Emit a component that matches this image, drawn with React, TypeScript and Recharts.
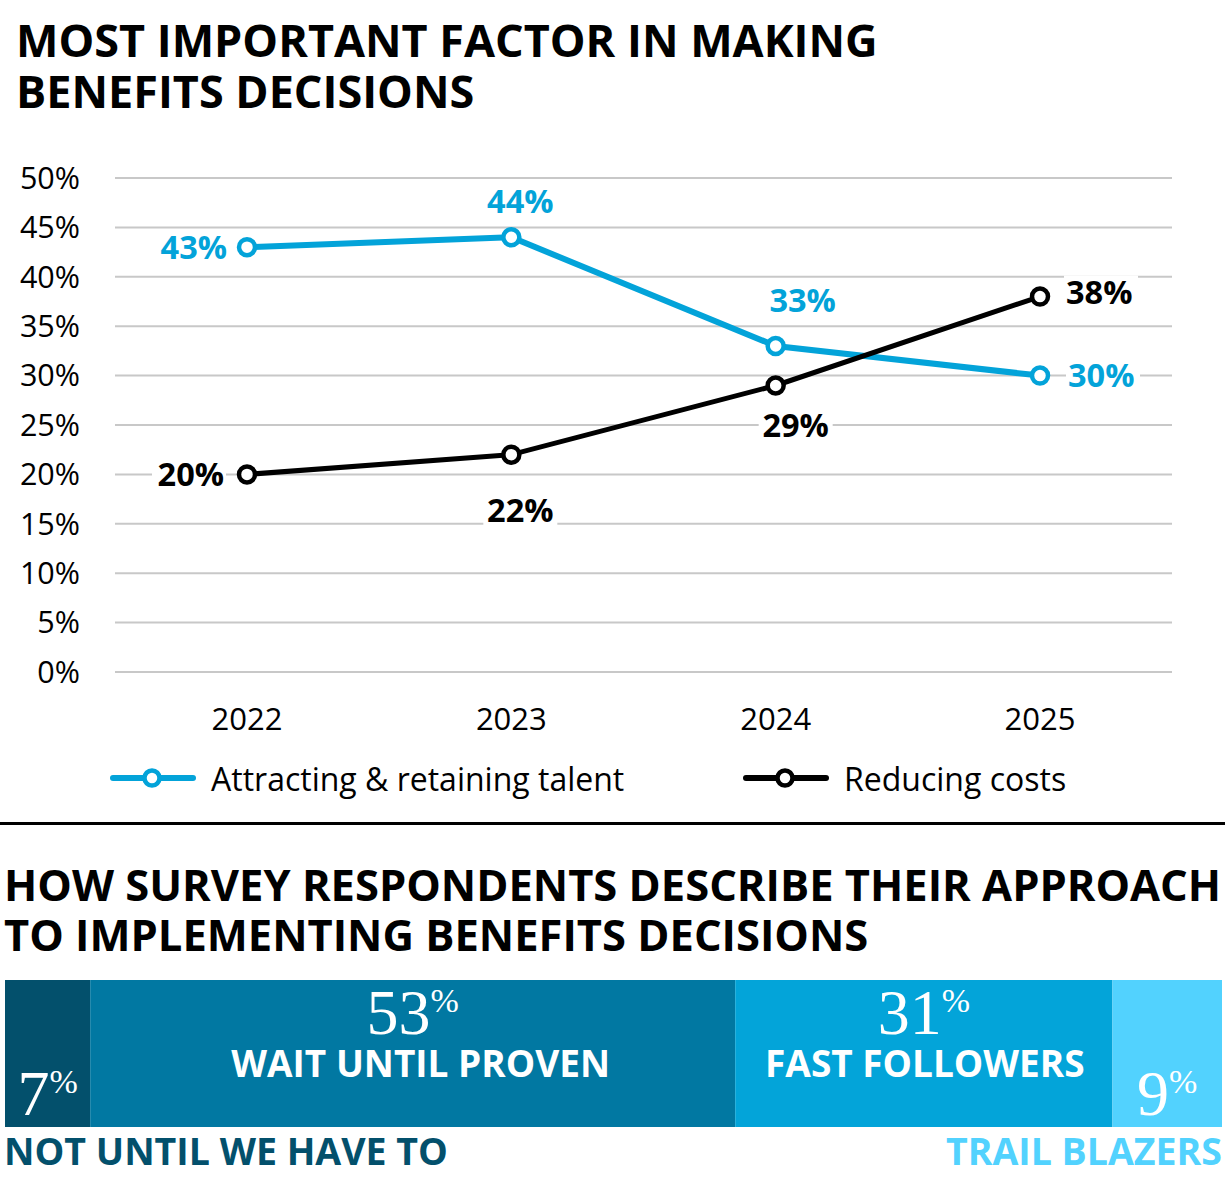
import React from 'react';
import { LineChart, Line, XAxis, YAxis, CartesianGrid, LabelList, BarChart, Bar } from 'recharts';

// Top chart: most important factor by year
const years = ['2022', '2023', '2024', '2025'];
const talentValues = [43, 44, 33, 30];
const costValues = [20, 22, 29, 38];
const yTicks = [0, 5, 10, 15, 20, 25, 30, 35, 40, 45, 50];

const lineData = years.map((year, i) => ({
  year,
  talent: talentValues[i],
  costs: costValues[i],
}));

// Bottom chart: approach to implementing decisions
const approachNames = ['NOT UNTIL WE HAVE TO', 'WAIT UNTIL PROVEN', 'FAST FOLLOWERS', 'TRAIL BLAZERS'];
const approachValues = [7, 53, 31, 9];
const approachKeys = ['notUntil', 'wait', 'fast', 'trail'];

const barRow: Record<string, any> = { name: 'approach' };
approachKeys.forEach((k, i) => (barRow[k] = approachValues[i]));
const barData = [barRow];

const BLUE = '#03A3D9';
const BLACK = '#000000';
const SANS = '"Open Sans", "Noto Sans", sans-serif';
const SERIF = '"Liberation Serif", "DejaVu Serif", serif';
const segColors = ['#03506C', '#0178A2', '#03A4D9', '#52D2FE'];
const nameShift = [0, 8, 1, 0];

// label placement relative to each point (style only)
const talentLabelPos = [
  { dx: -20, dy: 0, anchor: 'end' },
  { dx: 9, dy: -36, anchor: 'middle' },
  { dx: 27, dy: -46, anchor: 'middle' },
  { dx: 28, dy: 0, anchor: 'start' },
];
const costLabelPos = [
  { dx: -23, dy: 0, anchor: 'end' },
  { dx: 9, dy: 56, anchor: 'middle' },
  { dx: 20, dy: 40, anchor: 'middle' },
  { dx: 26, dy: -4, anchor: 'start' },
];

const makePointLabel = (color: string, pos: any[]) => (props: any) => {
  const { x, y, value, index } = props;
  const p = pos[index];
  const text = `${value}%`;
  const w = 70;
  const h = 34;
  const cx = x + p.dx;
  const cy = y + p.dy;
  let left = cx - w / 2;
  if (p.anchor === 'end') left = cx - w;
  if (p.anchor === 'start') left = cx;
  return (
    <g>
      <rect x={left - 2} y={cy - h / 2} width={w + 4} height={h} fill="#fff" />
      <text
        x={cx}
        y={cy}
        dy="0.36em"
        textAnchor={p.anchor}
        fill={color}
        fontFamily={SANS}
        fontWeight={700}
        fontSize={32.5}
      >
        {text}
      </text>
    </g>
  );
};

const LegendIcon = ({ color }: { color: string }) => (
  <svg width={86} height={22} style={{ display: 'block' }}>
    <line x1={3} y1={11} x2={83} y2={11} stroke={color} strokeWidth={6} strokeLinecap="round" />
    <circle cx={42} cy={11} r={7.5} fill="#fff" stroke={color} strokeWidth={4.5} />
  </svg>
);

const legendItems = [
  { label: 'Attracting & retaining talent', color: BLUE, left: 110 },
  { label: 'Reducing costs', color: BLACK, left: 743 },
];

const makeSegLabel = (i: number) => (props: any) => {
  const { x, y, width, height, value } = props;
  const cx = x + width / 2;
  const big = i === 1 || i === 2;
  const numY = big ? y + 54 : y + height - 12;
  const nameColor = segColors[i];
  return (
    <g>
      <text x={cx} y={numY} textAnchor="middle" fill="#fff" fontFamily={SERIF}>
        <tspan fontSize={64}>{value}</tspan>
        <tspan fontSize={34} dy={-22}>%</tspan>
      </text>
      {big && (
        <text
          x={cx + nameShift[i]}
          y={y + 97}
          textAnchor="middle"
          fill="#fff"
          fontFamily={SANS}
          fontWeight={700}
          fontSize={37}
        >
          {approachNames[i]}
        </text>
      )}
      {i === 0 && (
        <text x={x - 1} y={y + height + 38} textAnchor="start" fill={nameColor} fontFamily={SANS} fontWeight={700} fontSize={37.5}>
          {approachNames[i]}
        </text>
      )}
      {i === 3 && (
        <text x={x + width} y={y + height + 38} textAnchor="end" fill={nameColor} fontFamily={SANS} fontWeight={700} fontSize={37.5}>
          {approachNames[i]}
        </text>
      )}
    </g>
  );
};

const titleStyle: React.CSSProperties = {
  position: 'absolute',
  fontFamily: SANS,
  fontWeight: 700,
  lineHeight: '51px',
  color: '#000',
  margin: 0,
  whiteSpace: 'nowrap',
};

export default function App() {
  return (
    <div style={{ position: 'absolute', left: 0, top: 0, width: 1230, height: 1192, background: '#fff', overflow: 'hidden' }}>
      <div style={{ ...titleStyle, left: 16, top: 14, fontSize: 45 }}>
        MOST IMPORTANT FACTOR IN MAKING
        <br />
        BENEFITS DECISIONS
      </div>

      <div style={{ position: 'absolute', left: 0, top: 0 }}>
        <LineChart width={1230} height={820} data={lineData} margin={{ top: 178, right: 58, left: 35, bottom: 88 }}>
          <CartesianGrid vertical={false} stroke="#C8C8C8" strokeWidth={2} />
          <XAxis
            dataKey="year"
            axisLine={false}
            tickLine={false}
            tickSize={0}
            tickMargin={36}
            height={60}
            padding={{ left: 132, right: 132 }}
            tick={{ fill: '#000', fontFamily: SANS, fontSize: 31 }}
          />
          <YAxis
            domain={[0, 50]}
            ticks={yTicks}
            width={80}
            axisLine={false}
            tickLine={false}
            tickSize={0}
            tickMargin={35}
            tickFormatter={(v) => `${v}%`}
            tick={{ fill: '#000', fontFamily: SANS, fontSize: 30.5 }}
          />
          <Line
            dataKey="talent"
            stroke={BLUE}
            strokeWidth={6}
            dot={{ r: 8, fill: '#fff', stroke: BLUE, strokeWidth: 4.5 }}
            isAnimationActive={false}
          >
            <LabelList dataKey="talent" content={makePointLabel(BLUE, talentLabelPos)} />
          </Line>
          <Line
            dataKey="costs"
            stroke={BLACK}
            strokeWidth={5}
            dot={{ r: 8, fill: '#fff', stroke: BLACK, strokeWidth: 4.5 }}
            isAnimationActive={false}
          >
            <LabelList dataKey="costs" content={makePointLabel(BLACK, costLabelPos)} />
          </Line>
        </LineChart>
      </div>

      {legendItems.map((item) => (
        <div
          key={item.label}
          style={{ position: 'absolute', left: item.left, top: 756, display: 'flex', alignItems: 'center', height: 44 }}
        >
          <LegendIcon color={item.color} />
          <span style={{ marginLeft: 15, fontFamily: SANS, fontSize: 32, color: '#000' }}>{item.label}</span>
        </div>
      ))}

      <div style={{ position: 'absolute', left: 0, top: 822, width: 1225, height: 3, background: '#000' }} />

      <div style={{ ...titleStyle, left: 4, top: 860, fontSize: 43.5, lineHeight: '50px' }}>
        HOW SURVEY RESPONDENTS DESCRIBE THEIR APPROACH
        <br />
        TO IMPLEMENTING BENEFITS DECISIONS
      </div>

      <div style={{ position: 'absolute', left: 5, top: 965 }}>
        <BarChart
          width={1217}
          height={215}
          data={barData}
          layout="vertical"
          margin={{ top: 15, right: 0, left: 0, bottom: 53 }}
          barCategoryGap={0}
          style={{ overflow: 'visible' }}
        >
          <XAxis type="number" domain={[0, 100]} hide />
          <YAxis type="category" dataKey="name" hide />
          {approachKeys.map((k, i) => (
            <Bar key={k} dataKey={k} stackId="a" fill={segColors[i]} isAnimationActive={false}>
              <LabelList dataKey={k} content={makeSegLabel(i)} />
            </Bar>
          ))}
        </BarChart>
      </div>
    </div>
  );
}
